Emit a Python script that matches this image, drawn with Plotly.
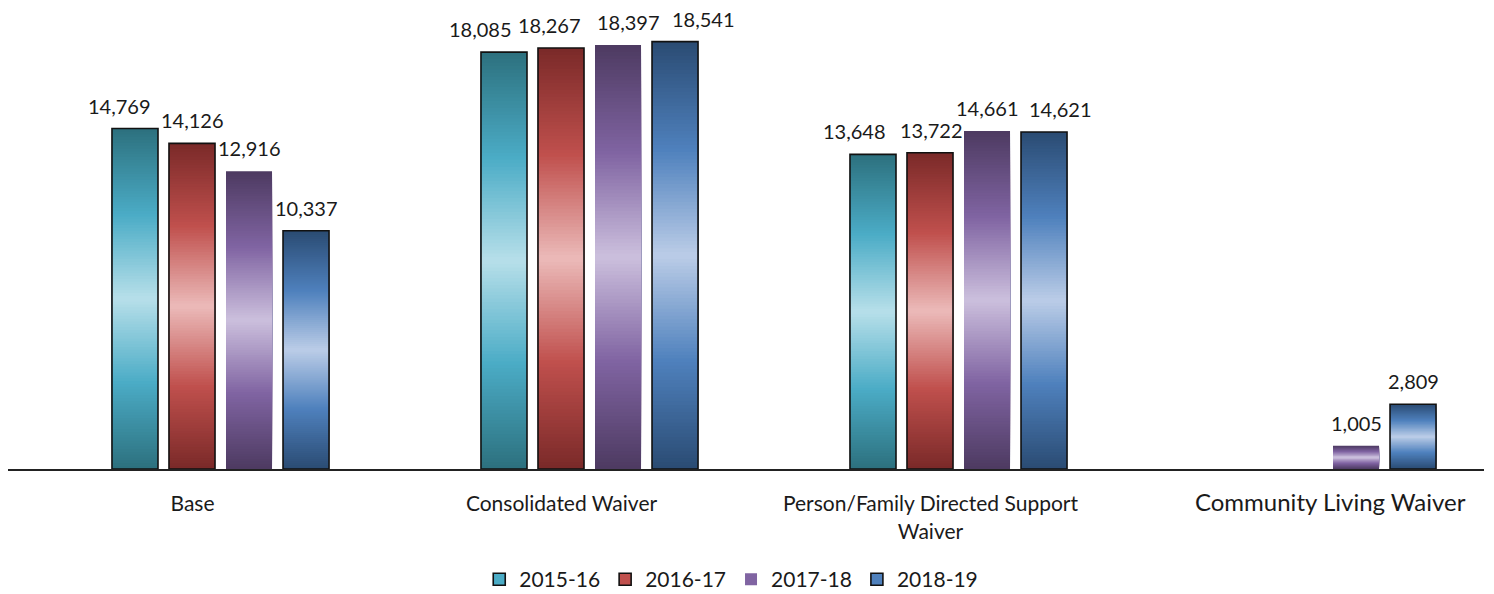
import numpy as np
import plotly.graph_objects as go

categories = ["Base", "Consolidated Waiver", "Person/Family Directed Support Waiver", "Community Living Waiver"]
tick_labels = [
    "Base",
    "Consolidated Waiver",
    "Person/Family Directed Support<br>Waiver",
    '<span style="font-size:24px">' + "&nbsp;" * 10 + "Community Living Waiver</span>",
]

years = ["2015-16", "2016-17", "2017-18", "2018-19"]
fy2015 = [14769, 18085, 13648, None]
fy2016 = [14126, 18267, 13722, None]
fy2017 = [12916, 18397, 14661, 1005]
fy2018 = [10337, 18541, 14621, 2809]

# dark edge, mid, light centre
palettes = [
    ("#2D717F", "#4BACC6", "#B9E0EA"),
    ("#7B2A29", "#C0504D", "#ECBCBB"),
    ("#4E3B62", "#8064A2", "#CDC1DE"),
    ("#2B4C74", "#4F81BD", "#BDCEE8"),
]
outlined = [True, True, False, True]
# pixel nudges for the value labels so neighbours don't collide
label_nudge = [
    [-15, -23, -18, 0],
    [0, -12, 1, 0],
    [0, 10, 0, 0],
    [0, 28, 16, 0],
]


def hex_rgb(h):
    h = h.lstrip("#")
    return np.array([int(h[i:i + 2], 16) for i in (0, 2, 4)], dtype=float)


def blend(stops, t):
    a, b, c = (hex_rgb(s) for s in stops)
    if t <= 0.5:
        col = a + (b - a) * (t / 0.5)
    else:
        col = b + (c - b) * ((t - 0.5) / 0.5)
    r, g, bl = (int(round(v)) for v in col)
    return f"rgb({r},{g},{bl})"


FONT = "Lato, 'Open Sans', sans-serif"
shift = 0.0759
slot = 0.1545
bar_w = 0.1247
bands = 60

fig = go.Figure()
series = [fy2015, fy2016, fy2017, fy2018]
annotations = []

for j, (name, vals) in enumerate(zip(years, series)):
    v = np.array([np.nan if x is None else x for x in vals], dtype=float)
    centre = shift + (j - 1.5) * slot
    offset = centre - bar_w / 2
    # stacked bands from edge (dark) to centre (light)
    for i in range(bands):
        t = i / bands
        fig.add_trace(go.Bar(
            x=categories,
            y=v * (1 - t),
            base=v * t / 2,
            width=bar_w,
            offset=offset,
            marker=dict(color=blend(palettes[j], t), line=dict(width=0)),
            showlegend=False,
            hoverinfo="skip",
        ))
    # outline
    fig.add_trace(go.Bar(
        x=categories,
        y=v,
        width=bar_w,
        offset=offset,
        marker=dict(
            color="rgba(0,0,0,0)",
            line=dict(color="#111111", width=1.6 if outlined[j] else 0),
        ),
        showlegend=False,
        name=name,
    ))
    # legend entry
    fig.add_trace(go.Bar(
        x=[categories[0]],
        y=[None],
        name=name,
        marker=dict(
            color=palettes[j][1],
            line=dict(color="#111111", width=1.6 if outlined[j] else 0),
        ),
        showlegend=True,
    ))
    for k, val in enumerate(vals):
        if val is None:
            continue
        annotations.append(dict(
            x=k + centre,
            y=val,
            xref="x",
            yref="y",
            text=f"{val:,}",
            showarrow=False,
            yanchor="bottom",
            yshift=9,
            xshift=label_nudge[j][k],
            font=dict(size=20, color="#1a1a1a", family=FONT),
        ))

# the page body adds an 8px offset, so the figure is sized to fit the window
fig.update_layout(
    width=1486,
    height=586,
    barmode="overlay",
    plot_bgcolor="white",
    paper_bgcolor="white",
    margin=dict(l=0, r=10, t=0, b=125, autoexpand=False),
    font=dict(family=FONT, size=22, color="#1a1a1a"),
    legend=dict(
        orientation="h",
        x=0.49,
        xanchor="center",
        y=-0.24,
        yanchor="middle",
        font=dict(size=21),
    ),
    annotations=annotations,
)
fig.update_xaxes(
    type="category",
    categoryorder="array",
    categoryarray=categories,
    tickvals=categories,
    ticktext=tick_labels,
    range=[-0.5, 3.5],
    automargin=False,
    showline=True,
    linecolor="#222222",
    linewidth=2,
    showgrid=False,
    ticks="outside",
    ticklen=15,
    tickcolor="rgba(0,0,0,0)",
    tickfont=dict(size=21),
)
fig.update_yaxes(
    range=[0, 20000],
    automargin=False,
    visible=False,
    showgrid=False,
    zeroline=False,
)

fig.write_html("out.html")
